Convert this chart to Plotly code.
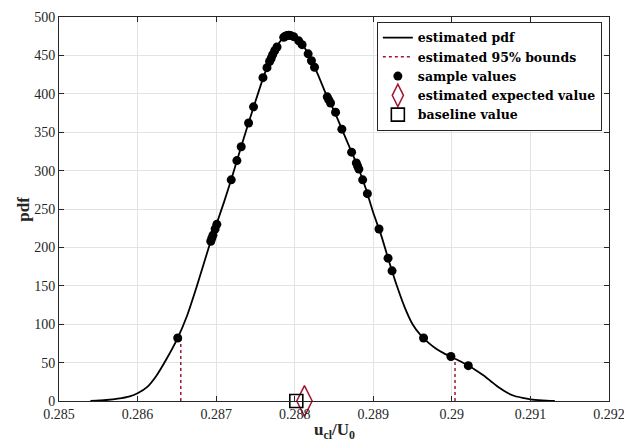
import plotly.graph_objects as go

# estimated pdf curve
pdf_x = [0.28540, 0.28560, 0.28575, 0.28590, 0.28600, 0.28612, 0.28624, 0.28637,
         0.28651, 0.28663, 0.28675, 0.28690, 0.28700, 0.28710, 0.28720, 0.28730,
         0.28740, 0.28750, 0.28760, 0.28770, 0.28780, 0.28786, 0.28792, 0.28798,
         0.28805, 0.28812, 0.28820, 0.28830, 0.28840, 0.28850, 0.28860, 0.28870,
         0.28880, 0.28890, 0.28900, 0.28910, 0.28920, 0.28930, 0.28940, 0.28950,
         0.28960, 0.28970, 0.28980, 0.28990, 0.29000, 0.29010, 0.29020, 0.29030,
         0.29040, 0.29050, 0.29060, 0.29070, 0.29080, 0.29090, 0.29100, 0.29115,
         0.29131]
pdf_y = [0, 1.3, 3.0, 6.0, 10, 18, 33, 55,
         82, 111, 148, 198, 229, 259, 291, 325,
         358, 390, 421, 448, 466, 473.5, 476.5, 475,
         469, 461, 446, 424, 399, 378, 354, 330,
         306, 278, 245, 216, 182, 150, 122, 100,
         86, 76, 68, 62, 57, 52, 46.5, 40.5,
         33.5, 25.5, 17.5, 11, 6.5, 4, 2.2, 0.8,
         0]

# sample values
sample_x = [0.286511, 0.286932, 0.286945, 0.286960, 0.286987, 0.287009, 0.287192,
            0.287264, 0.287319, 0.287413, 0.287476, 0.287596, 0.287647, 0.287680,
            0.287700, 0.287719, 0.287745, 0.287775, 0.287860, 0.287880, 0.287903,
            0.287925, 0.287945, 0.287987, 0.288051, 0.288094, 0.288171, 0.288213,
            0.288252, 0.288414, 0.288434, 0.288456, 0.288520, 0.288600, 0.288724,
            0.288784, 0.288800, 0.288817, 0.288865, 0.288925, 0.289073, 0.289188,
            0.289239, 0.289640, 0.289988, 0.290209]
sample_y = [82, 208, 212, 216, 224, 230, 288,
            313, 331, 362, 383, 421, 434, 442,
            446, 451, 456, 461, 473.5, 475, 476,
            476.3, 476, 474.4, 469, 464, 452, 443,
            434.5, 396, 392, 388, 376, 354, 324,
            310, 306, 302, 288, 270, 224, 186,
            169.5, 82, 58, 46]

lower_bound = 0.28655
upper_bound = 0.29004
lower_pdf = 83
upper_pdf = 56

expected_value = 0.288124
baseline_value = 0.28802

x_ticks = [0.285, 0.286, 0.287, 0.288, 0.289, 0.290, 0.291, 0.292]
x_ticktext = ["0.285", "0.286", "0.287", "0.288", "0.289", "0.29", "0.291", "0.292"]
y_ticks = [0, 50, 100, 150, 200, 250, 300, 350, 400, 450, 500]

red = "#A2142F"
font_family = "Liberation Serif, DejaVu Serif, serif"
legend_font = "DejaVu Serif, serif"

fig = go.Figure()
fig.add_trace(go.Scatter(x=pdf_x, y=pdf_y, mode="lines", name="<b>estimated pdf</b>",
                         line=dict(color="black", width=1.8, shape="spline", smoothing=0.6)))
fig.add_trace(go.Scatter(x=[lower_bound, lower_bound, None, upper_bound, upper_bound],
                         y=[0, lower_pdf, None, 0, upper_pdf], mode="lines",
                         name="<b>estimated 95% bounds</b>",
                         line=dict(color=red, width=1.5, dash="dot")))
fig.add_trace(go.Scatter(x=sample_x, y=sample_y, mode="markers", name="<b>sample values</b>",
                         marker=dict(color="black", size=9, symbol="circle")))
fig.add_trace(go.Scatter(x=[expected_value], y=[0], mode="markers",
                         name="<b>estimated expected value</b>",
                         marker=dict(symbol="diamond-tall-open", size=22, color=red,
                                     line=dict(color=red, width=1.5)),
                         cliponaxis=False))
fig.add_trace(go.Scatter(x=[baseline_value], y=[0], mode="markers",
                         name="<b>baseline value</b>",
                         marker=dict(symbol="square-open", size=13, color="black",
                                     line=dict(color="black", width=1.6)),
                         cliponaxis=False))

fig.update_layout(
    width=624, height=443,
    margin=dict(l=59, r=15, t=17, b=42),
    plot_bgcolor="white", paper_bgcolor="white",
    font=dict(family=font_family, size=14, color="#262626"),
    showlegend=True,
    legend=dict(x=0.987, y=0.987, xanchor="right", yanchor="top",
                bgcolor="white", bordercolor="#262626", borderwidth=1,
                font=dict(family=legend_font, size=12.5, color="black"),
                tracegroupgap=0, itemwidth=30),
    annotations=[
        dict(text="<b>u<sub>cl</sub>/U<sub>0</sub></b>", xref="paper", yref="paper",
             x=0.5, y=-0.112, xanchor="center", yanchor="bottom", showarrow=False,
             font=dict(family=font_family, size=17, color="#262626")),
        dict(text="<b>pdf</b>", xref="paper", yref="paper", textangle=-90,
             x=-0.066, y=0.5, xanchor="center", yanchor="middle", showarrow=False,
             font=dict(family=font_family, size=17, color="#262626")),
    ],
)
fig.update_xaxes(range=[0.285, 0.292], tickvals=x_ticks, ticktext=x_ticktext,
                 automargin=False, ticklabeloverflow="allow",
                 showgrid=True, gridcolor="#e3e3e3", gridwidth=1,
                 ticks="inside", ticklen=5, tickcolor="#262626",
                 showline=True, linecolor="#262626", linewidth=1, mirror="allticks",
                 zeroline=False)
fig.update_yaxes(range=[0, 500], tickvals=y_ticks, automargin=False,
                 ticklabeloverflow="allow",
                 showgrid=True, gridcolor="#e3e3e3", gridwidth=1,
                 ticks="inside", ticklen=5, tickcolor="#262626",
                 showline=True, linecolor="#262626", linewidth=1, mirror="allticks",
                 zeroline=False)

fig.write_html("out.html", config={"displayModeBar": False},
               post_script="document.body.style.margin='0';document.body.style.overflow='hidden';")
